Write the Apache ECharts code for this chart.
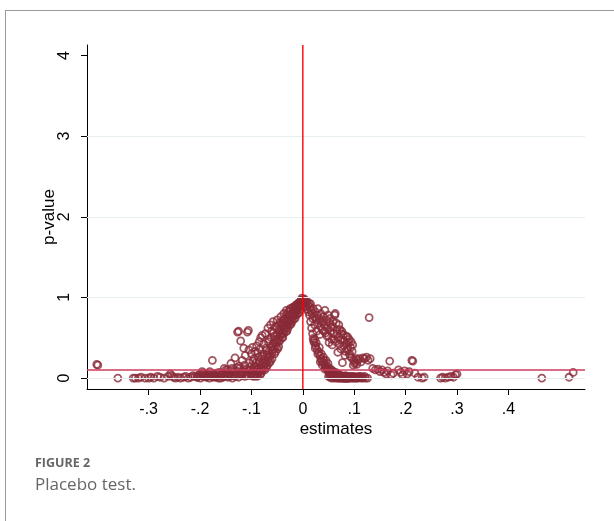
<!DOCTYPE html>
<html>
<head>
<meta charset="utf-8">
<script src="https://cdn.jsdelivr.net/npm/echarts@6/dist/echarts.min.js"></script>
<style>
html,body{margin:0;padding:0;background:#fff;}
#frame{position:absolute;left:5px;top:10px;width:700px;height:600px;border-left:1px solid #9a9a9a;border-top:1px solid #9a9a9a;}
#chart{position:absolute;left:0;top:0;width:614px;height:521px;}
</style>
</head>
<body>
<div id="frame"></div>
<div id="chart"></div>
<script>
// Placebo estimates (x) and p-values (y)
const estimates = [
 -0.401,-0.399,-0.360,-0.330,-0.326,-0.320,-0.315,-0.307,-0.300,-0.296,-0.290,-0.283,-0.278,-0.270,-0.262,-0.258,-0.255,-0.252,-0.248,-0.243,-0.238,-0.232,-0.228,-0.223,-0.218,-0.214,-0.210,-0.206,-0.203,-0.200,-0.197,-0.194,-0.191,-0.188,-0.185,-0.182,-0.179,-0.176,-0.173,-0.170,-0.167,-0.164,-0.161,-0.158,-0.155,-0.152,-0.149,-0.146,-0.143,-0.140,-0.137,-0.134,-0.131,-0.128,-0.125,-0.122,-0.119,-0.116,-0.113,-0.110,
 -0.205,-0.199,-0.192,-0.186,-0.181,-0.175,-0.171,-0.166,-0.160,-0.156,-0.151,-0.147,-0.142,-0.138,-0.133,-0.129,-0.124,-0.120,-0.115,-0.111,-0.107,-0.104,-0.101,
 -0.176,-0.127,-0.125,-0.108,-0.106,-0.121,-0.115,-0.105,-0.098,-0.090,-0.150,-0.140,-0.132,-0.128,-0.118,-0.112,-0.104,-0.100,-0.095,-0.092,-0.088,-0.085,-0.082,-0.080,-0.076,-0.073,-0.071,-0.068,-0.066,-0.063,-0.061,-0.058,-0.056,-0.053,-0.050,-0.048,-0.046,-0.043,-0.040,-0.037,-0.035,-0.032,-0.030,-0.027,-0.025,-0.022,-0.019,-0.017,-0.014,-0.011,-0.009,-0.006,-0.004,-0.002,0.000,0.002,
 -0.100,-0.098,-0.096,-0.094,-0.092,-0.090,-0.088,-0.086,-0.084,-0.082,-0.080,-0.078,-0.076,-0.074,-0.072,-0.070,-0.068,-0.066,-0.064,-0.062,-0.060,-0.058,-0.056,-0.054,-0.052,-0.050,-0.048,-0.046,-0.044,-0.042,-0.040,-0.038,-0.036,-0.034,-0.032,-0.030,-0.028,-0.026,-0.024,-0.022,-0.020,-0.018,-0.016,-0.014,-0.012,-0.010,-0.008,-0.006,-0.004,-0.002,-0.001,
 -0.097,-0.093,-0.087,-0.083,-0.079,-0.075,-0.071,-0.067,-0.063,-0.059,-0.055,-0.051,-0.047,-0.043,-0.039,-0.035,-0.031,-0.027,-0.023,-0.019,-0.015,-0.011,-0.007,-0.003,
 -0.095,-0.091,-0.089,-0.085,-0.081,-0.077,-0.074,-0.072,-0.069,-0.067,-0.065,-0.062,-0.060,-0.057,-0.055,-0.053,-0.051,-0.049,-0.047,-0.045,-0.044,-0.041,-0.039,-0.037,-0.036,-0.033,-0.031,-0.029,-0.028,-0.025,-0.024,-0.021,-0.020,-0.018,-0.016,-0.013,-0.012,-0.010,-0.008,-0.005,-0.003,-0.001,
 -0.079,-0.083,-0.086,-0.093,-0.097,-0.102,-0.109,-0.113,-0.117,-0.123,-0.135,-0.145,-0.153,-0.163,-0.168,-0.183,-0.189,-0.196,
 0.003,0.005,0.006,0.008,0.010,0.012,0.004,0.007,0.009,0.011,
 0.013,0.015,0.017,0.019,0.020,0.021,0.022,0.023,0.025,0.028,0.031,0.033,0.035,0.037,0.039,0.040,0.042,0.044,0.045,0.046,0.048,0.049,0.050,0.052,0.054,0.055,0.057,0.058,0.060,0.062,0.063,0.065,0.067,0.068,0.070,0.072,0.074,0.076,0.078,0.080,0.082,0.084,0.086,0.088,0.090,0.092,0.094,0.096,0.098,0.100,0.102,0.104,0.107,0.110,0.113,0.117,0.122,0.126,
 0.050,0.053,0.056,0.059,0.061,0.064,0.066,0.069,0.071,0.073,0.075,0.077,0.079,0.081,0.083,0.085,0.087,0.089,
 0.024,0.026,0.029,0.032,0.034,0.036,0.038,0.041,0.043,0.047,0.051,0.053,0.056,0.059,0.062,0.064,0.068,0.071,0.075,0.079,0.083,0.087,0.091,0.095,0.099,0.103,0.108,0.112,0.116,0.120,
 0.014,0.016,0.018,0.020,0.022,0.024,0.026,0.028,0.030,0.032,0.034,0.036,0.038,0.040,0.042,0.044,0.046,0.048,0.050,0.052,0.054,0.056,0.058,0.060,0.062,0.063,0.064,0.066,0.068,0.069,0.071,0.072,0.074,0.075,0.077,0.078,0.080,0.082,0.084,0.086,0.087,0.089,0.091,0.093,0.095,0.097,0.099,0.101,0.104,0.107,0.110,0.113,0.117,0.120,0.124,0.127,0.129,0.131,
 0.015,0.019,0.023,0.027,0.029,0.033,0.035,0.039,0.041,0.043,0.047,0.049,0.051,0.053,0.055,0.057,0.059,0.061,0.065,0.067,0.070,0.073,0.076,0.079,0.081,0.083,0.085,0.088,0.090,0.092,0.094,0.096,0.098,0.102,0.105,
 0.136,0.141,0.146,0.150,0.154,0.158,0.162,0.165,0.169,0.172,0.176,0.186,0.190,0.194,0.198,0.203,0.207,0.212,0.214,0.218,0.224,0.232,0.236,0.268,0.272,0.277,0.283,0.288,0.293,0.297,0.300,0.465,0.518,0.526
];
const pValues = [
 0.17,0.16,0.00,0.00,0.00,0.00,0.01,0.00,0.00,0.01,0.00,0.02,0.01,0.00,0.02,0.05,0.03,0.01,0.00,0.01,0.00,0.01,0.02,0.00,0.01,0.03,0.02,0.01,0.04,0.03,0.05,0.02,0.06,0.01,0.04,0.00,0.03,0.02,0.05,0.01,0.06,0.00,0.03,0.04,0.01,0.02,0.07,0.01,0.05,0.03,0.00,0.04,0.02,0.06,0.01,0.05,0.03,0.08,0.02,0.04,
 0.01,0.00,0.03,0.02,0.08,0.01,0.03,0.02,0.00,0.06,0.04,0.10,0.02,0.12,0.03,0.09,0.15,0.05,0.11,0.07,0.03,0.09,0.05,
 0.22,0.57,0.58,0.57,0.59,0.46,0.37,0.35,0.38,0.40,0.10,0.18,0.25,0.13,0.22,0.28,0.19,0.30,0.24,0.14,0.31,0.45,0.50,0.27,0.42,0.55,0.35,0.62,0.48,0.66,0.58,0.70,0.52,0.64,0.72,0.45,0.60,0.76,0.68,0.80,0.72,0.84,0.66,0.78,0.86,0.74,0.88,0.82,0.90,0.86,0.93,0.90,0.96,0.99,0.97,0.95,
 0.03,0.06,0.02,0.08,0.05,0.10,0.04,0.12,0.08,0.16,0.11,0.20,0.14,0.24,0.18,0.29,0.22,0.33,0.27,0.38,0.31,0.42,0.36,0.47,0.40,0.53,0.49,0.57,0.52,0.61,0.56,0.65,0.60,0.69,0.64,0.73,0.68,0.77,0.72,0.80,0.76,0.83,0.79,0.86,0.83,0.89,0.87,0.92,0.90,0.94,0.97,
 0.10,0.03,0.07,0.04,0.09,0.19,0.13,0.26,0.21,0.35,0.30,0.44,0.39,0.55,0.50,0.63,0.58,0.71,0.67,0.78,0.74,0.84,0.81,0.92,
 0.13,0.19,0.02,0.21,0.06,0.30,0.10,0.37,0.16,0.45,0.19,0.50,0.24,0.56,0.44,0.33,0.61,0.36,0.66,0.46,0.69,0.50,0.71,0.55,0.74,0.58,0.79,0.62,0.82,0.66,0.84,0.70,0.87,0.73,0.88,0.78,0.91,0.80,0.93,0.85,0.96,0.92,
 0.53,0.36,0.26,0.33,0.21,0.14,0.10,0.16,0.06,0.12,0.08,0.05,0.12,0.07,0.04,0.05,0.02,0.08,
 0.98,0.96,0.93,0.95,0.91,0.93,0.90,0.88,0.85,0.82,
 0.78,0.70,0.62,0.55,0.49,0.46,0.44,0.48,0.40,0.35,0.32,0.28,0.24,0.21,0.19,0.26,0.17,0.14,0.22,0.12,0.10,0.18,0.08,0.06,0.11,0.05,0.04,0.09,0.03,0.06,0.02,0.04,0.02,0.05,0.01,0.03,0.01,0.02,0.00,0.02,0.01,0.00,0.01,0.00,0.01,0.00,0.01,0.00,0.00,0.01,0.00,0.00,0.00,0.01,0.00,0.00,0.00,0.00,
 0.02,0.01,0.00,0.01,0.00,0.01,0.00,0.00,0.00,0.00,0.01,0.00,0.00,0.00,0.00,0.00,0.00,0.00,
 0.37,0.44,0.30,0.38,0.20,0.30,0.16,0.22,0.11,0.15,0.12,0.04,0.08,0.05,0.02,0.07,0.03,0.04,0.03,0.02,0.03,0.02,0.02,0.02,0.02,0.01,0.02,0.02,0.01,0.02,
 0.88,0.84,0.80,0.86,0.76,0.82,0.72,0.78,0.68,0.74,0.64,0.70,0.60,0.76,0.66,0.56,0.72,0.62,0.52,0.68,0.58,0.48,0.64,0.55,0.78,0.80,0.45,0.60,0.32,0.50,0.42,0.60,0.36,0.55,0.19,0.47,0.40,0.28,0.52,0.35,0.51,0.44,0.30,0.38,0.25,0.41,0.22,0.18,0.24,0.22,0.24,0.20,0.25,0.24,0.26,0.22,0.75,0.24,
 0.92,0.74,0.66,0.58,0.86,0.54,0.80,0.70,0.58,0.84,0.52,0.78,0.44,0.74,0.63,0.41,0.70,0.48,0.68,0.55,0.66,0.47,0.58,0.54,0.46,0.33,0.43,0.37,0.48,0.27,0.45,0.33,0.16,0.20,0.17,
 0.12,0.10,0.11,0.08,0.10,0.07,0.05,0.09,0.21,0.04,0.06,0.10,0.07,0.04,0.09,0.05,0.08,0.22,0.21,0.06,0.01,0.00,0.01,0.00,0.01,0.00,0.01,0.02,0.01,0.04,0.05,0.00,0.01,0.07
];
const xTicks = [-0.3,-0.2,-0.1,0,0.1,0.2,0.3,0.4];
const yTicks = [0,1,2,3,4];
const gridYs = [0,1,2,3];
const pThreshold = 0.1;
const zeroEffect = 0;
const xRange = [-0.42, 0.549];
const yRange = [-0.136, 4.13];

const points = estimates.map((x,i)=>[x,pValues[i]]);
function fmt(v){
  if (v === 0) return '0';
  const s = String(Math.abs(v)).replace(/^0/,'');
  return (v<0?'-':'') + s;
}
const chart = echarts.init(document.getElementById('chart'), null, {renderer:'canvas'});
const font = '"Liberation Sans", Arial, sans-serif';
chart.setOption({
  animation:false,
  backgroundColor:'transparent',
  grid:{left:87,right:29,top:45,bottom:132,containLabel:false},
  xAxis:{
    type:'value', min:xRange[0], max:xRange[1],
    name:'estimates', nameLocation:'middle', nameGap:32, nameMoveOverlap:false,
    nameTextStyle:{fontFamily:font,fontSize:17,color:'#000'},
    axisLine:{show:true,onZero:false,lineStyle:{color:'#000',width:1}},
    axisTick:{show:true,length:6,customValues:xTicks,lineStyle:{color:'#000'}},
    axisLabel:{customValues:xTicks,formatter:fmt,fontFamily:font,fontSize:16,color:'#000',margin:13},
    splitLine:{show:false}
  },
  yAxis:{
    type:'value', min:yRange[0], max:yRange[1],
    name:'p-value', nameLocation:'middle', nameGap:29, nameRotate:90, nameMoveOverlap:false,
    nameTextStyle:{fontFamily:font,fontSize:17,color:'#000'},
    axisLine:{show:true,onZero:false,lineStyle:{color:'#000',width:1}},
    axisTick:{show:true,length:6,customValues:yTicks,lineStyle:{color:'#000'}},
    axisLabel:{customValues:yTicks,formatter:fmt,rotate:90,fontFamily:font,fontSize:16,color:'#000',margin:14},
    splitLine:{show:false}
  },
  series:[
    {
      type:'line', data:[], silent:true, z:1,
      markLine:{silent:true,symbol:['none','none'],label:{show:false},
        lineStyle:{color:'#e6eef1',width:1,type:'solid'},
        data:gridYs.map(v=>({yAxis:v}))}
    },
    {
      type:'scatter', data:points, z:3,
      symbol:'circle', symbolSize:7,
      itemStyle:{color:'rgba(0,0,0,0)',borderColor:'#8a2b38',borderWidth:1.8}
    },
    {
      type:'line', data:[[xRange[0],pThreshold],[xRange[1],pThreshold]], silent:true, z:4,
      showSymbol:false, symbol:'none',
      lineStyle:{color:'#cc3d5e',width:1.5}
    },
    {
      type:'line', data:[[zeroEffect,yRange[0]],[zeroEffect,yRange[1]]], silent:true, z:5,
      showSymbol:false, symbol:'none',
      lineStyle:{color:'#ff0000',width:1.4}
    }
  ],
  graphic:[
    {type:'text',left:35,top:457,style:{text:'FIGURE 2',fontFamily:'"Open Sans", Lato, sans-serif',fontSize:12.5,fontWeight:'bold',fill:'#666'}},
    {type:'text',left:35,top:477,style:{text:'Placebo test.',fontFamily:'"Open Sans", Lato, sans-serif',fontSize:17,fill:'#666'}}
  ]
});
</script>
</body>
</html>
